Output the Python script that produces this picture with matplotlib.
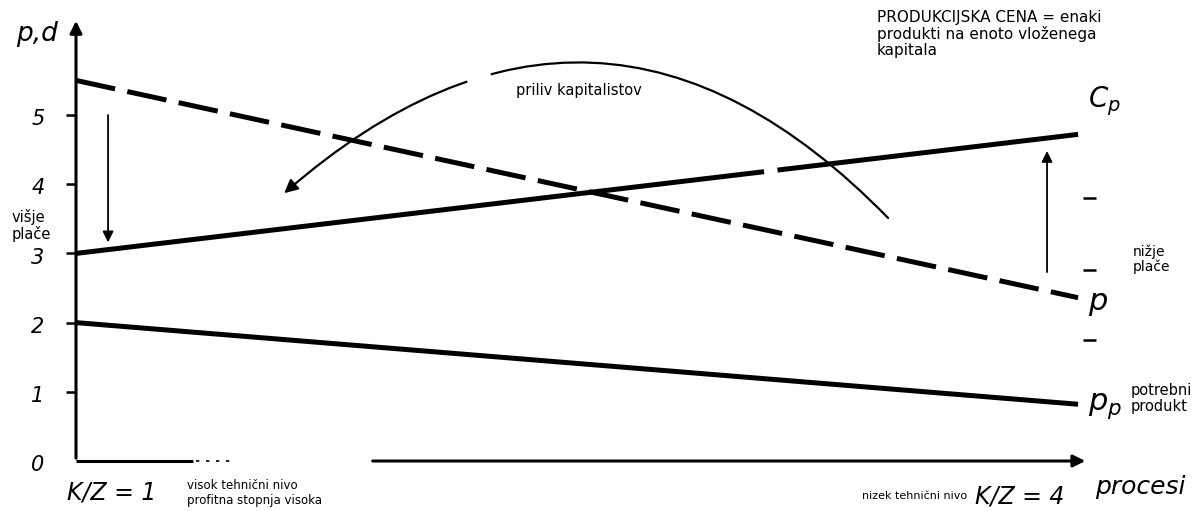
import numpy as np
import matplotlib.pyplot as plt
from matplotlib.patches import FancyArrowPatch

# data (K/Z on x, value on y)
kz = [1, 4]
cp = [3.0, 4.72]      # produkcijska cena
p = [5.5, 2.36]       # p
pp = [2.0, 0.82]      # potrebni produkt
yticks = [0, 1, 2, 3, 4, 5]
ytick_labels = ['0', '1', '2', '3', '4', '5']
right_marks = [3.80, 2.76, 1.75]

fig = plt.figure(figsize=(11.92, 5.11), dpi=100)
ax = fig.add_axes([0, 0, 1, 1])
ax.set_xlim(0.7725, 4.341)
ax.set_ylim(-0.7225, 6.662)
ax.axis('off')

# axes drawn by hand
ax.annotate('', xy=(1, 6.40), xytext=(1, 0),
            arrowprops=dict(arrowstyle='-|>', lw=2.2, color='black', mutation_scale=18))
ax.plot([1, 1.35], [0, 0], color='black', lw=2.2, solid_capstyle='butt')
ax.plot([1.36, 1.46], [0, 0], color='black', lw=1.2, ls=(0, (2, 4)))
ax.annotate('', xy=(4.03, 0), xytext=(1.88, 0),
            arrowprops=dict(arrowstyle='-|>', lw=2.2, color='black', mutation_scale=18))

ax.hlines(yticks[1:], 0.97, 1.0, color='black', lw=1.8)
for v, lab in zip(yticks, ytick_labels):
    ax.text(0.886, v - 0.06, lab, ha='center', va='center', fontsize=15, style='italic')
ax.hlines(right_marks, 4.015, 4.054, color='black', lw=1.8)

# main lines
ax.plot(kz, cp, color='black', lw=3.6, solid_capstyle='butt')
ax.plot(kz, p, color='black', lw=3.6, ls=(0, (8, 2.5)))
ax.plot(kz, pp, color='black', lw=3.6, solid_capstyle='butt')
# small break in Cp
ax.plot([3.06, 3.1], [cp[0] + (cp[1] - cp[0]) * 2.06 / 3, cp[0] + (cp[1] - cp[0]) * 2.1 / 3],
        color='white', lw=6, solid_capstyle='butt')

# curved arrow (priliv kapitalistov)
arc = FancyArrowPatch((3.437, 3.483), (1.617, 3.844), arrowstyle='-|>', mutation_scale=20,
                      connectionstyle='arc3,rad=0.475', lw=1.6, color='black', zorder=1)
ax.add_patch(arc)
# small break in the arc
ax.plot([2.18, 2.23], [5.52, 5.60], color='white', lw=5, zorder=1.5)

# vertical arrows
ax.annotate('', xy=(1.096, 3.12), xytext=(1.096, 5.04),
            arrowprops=dict(arrowstyle='-|>', lw=1.3, color='black', mutation_scale=16))
ax.annotate('', xy=(3.907, 4.52), xytext=(3.907, 2.69),
            arrowprops=dict(arrowstyle='-|>', lw=1.3, color='black', mutation_scale=16))

# labels
ax.text(0.883, 6.17, 'p,d', ha='center', va='center', fontsize=19, style='italic')
ax.text(0.808, 3.40, 'višje\nplače', ha='left', va='center', fontsize=10.5, linespacing=1.1)
ax.text(1.108, -0.448, 'K/Z = 1', ha='center', va='center', fontsize=17, style='italic')
ax.text(1.332, -0.46, 'visok tehnični nivo\nprofitna stopnja visoka', ha='left', va='center',
        fontsize=8.5, linespacing=1.2)
ax.text(3.353, -0.506, 'nizek tehnični nivo', ha='left', va='center', fontsize=8)
ax.text(3.826, -0.52, 'K/Z = 4', ha='center', va='center', fontsize=17, style='italic')
ax.text(4.186, -0.376, 'procesi', ha='center', va='center', fontsize=18, style='italic')
ax.text(4.03, 5.2, '$C_p$', ha='left', va='center', fontsize=20)
ax.text(4.03, 2.28, '$p$', ha='left', va='center', fontsize=22)
ax.text(4.03, 0.80, '$p_p$', ha='left', va='center', fontsize=22)
ax.text(4.156, 0.90, 'potrebni\nprodukt', ha='left', va='center', fontsize=10.5, linespacing=1.05)
ax.text(4.165, 2.92, 'nižje\nplače', ha='left', va='center', fontsize=10, linespacing=1.05)
ax.text(3.398, 6.52, 'PRODUKCIJSKA CENA = enaki\nprodukti na enoto vloženega\nkapitala',
        ha='left', va='top', fontsize=11, linespacing=1.1)
ax.text(2.504, 5.36, 'priliv kapitalistov', ha='center', va='center', fontsize=10.5)

fig.savefig('out.png', dpi=100)
